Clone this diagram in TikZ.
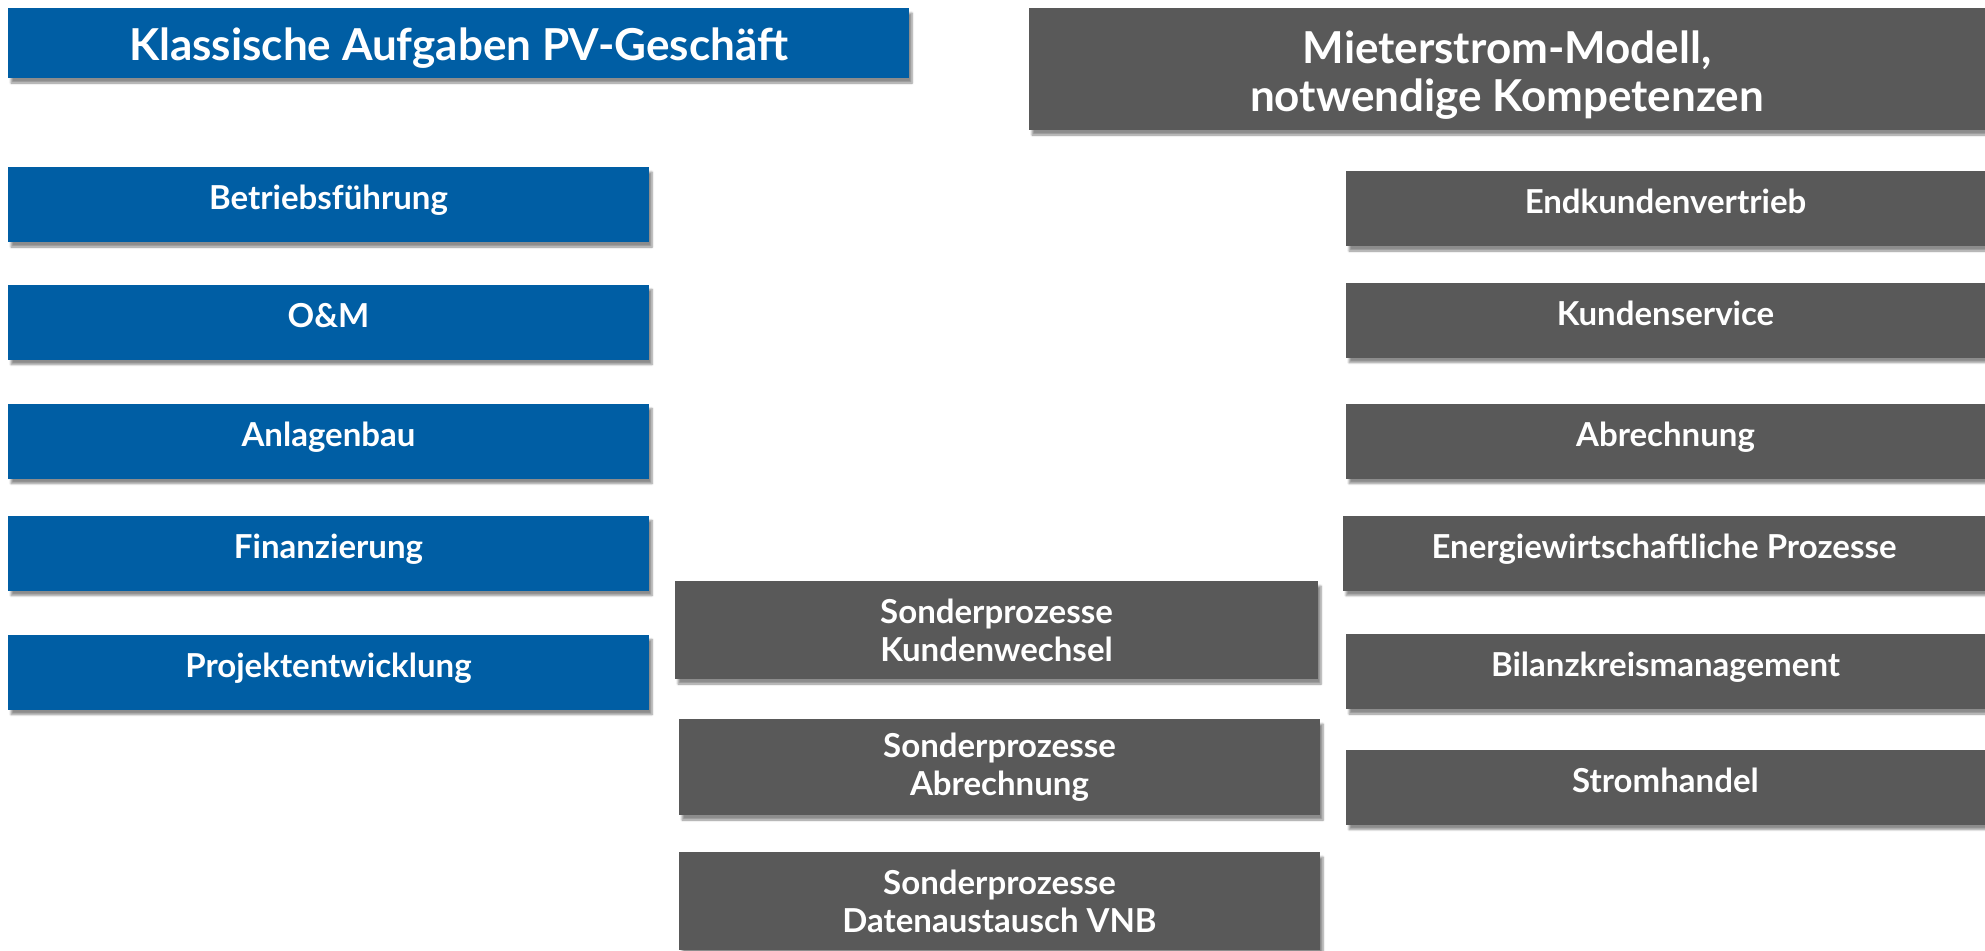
\documentclass[tikz,border=0pt]{standalone}
\usepackage{fontspec}
\setmainfont{Lato}
\usetikzlibrary{shadows.blur}
\definecolor{pvblue}{RGB}{0,94,164}
\definecolor{mgray}{RGB}{89,89,89}
\begin{document}
\begin{tikzpicture}[x=1pt,y=-1pt,
  plain/.style={text=white, align=center, inner sep=0pt},
  base/.style={plain,
    blur shadow={shadow xshift=3pt, shadow yshift=-5pt, shadow blur steps=6, shadow opacity=45}},
  oneline/.style={text height=25pt, text depth=15pt},
  bluebox/.style={base, oneline, fill=pvblue, minimum width=641pt, minimum height=75pt,
    font=\bfseries\fontsize{33}{38}\selectfont},
  graybox/.style={base, fill=mgray, minimum height=75pt,
    font=\bfseries\fontsize{33}{38}\selectfont},
  titletext/.style={plain, font=\bfseries\fontsize{44}{48}\selectfont}]
\useasboundingbox (0,0) rectangle (1985,950);
% titles
\node[base, fill=pvblue, minimum width=901pt, minimum height=70pt] (tl) at (458.5,43) {};
\node[titletext] (tlt) at (458.5,48) {Klassische Aufgaben PV-Geschäft};
\node[base, fill=mgray, minimum width=956pt, minimum height=122pt] (tr) at (1507,69) {};
\node[titletext] (trt) at (1507,75) {Mieterstrom-Modell,\\notwendige Kompetenzen};
% left column
\node[bluebox] (b1) at (328.5,204.5) {Betriebsführung};
\node[bluebox] (b2) at (328.5,322) {O\&M};
\node[bluebox] (b3) at (328.5,441) {Anlagenbau};
\node[bluebox] (b4) at (328.5,553) {Finanzierung};
\node[bluebox] (b5) at (328.5,672) {Projektentwicklung};
% middle column
\node[graybox, minimum width=643pt, minimum height=98pt] (m1) at (996.5,630) {Sonderprozesse\\Kundenwechsel};
\node[graybox, minimum width=641pt, minimum height=96pt] (m2) at (999.5,767) {Sonderprozesse\\Abrechnung};
\node[graybox, minimum width=641pt, minimum height=98pt] (m3) at (999.5,901) {Sonderprozesse\\Datenaustausch VNB};
% right column
\node[graybox, oneline, minimum width=639pt] (r1) at (1665.5,208.5) {Endkundenvertrieb};
\node[graybox, oneline, minimum width=639pt] (r2) at (1665.5,320) {Kundenservice};
\node[graybox, oneline, minimum width=639pt] (r3) at (1665.5,441) {Abrechnung};
\node[graybox, oneline, minimum width=642pt] (r4) at (1664,553) {Energiewirtschaftliche Prozesse};
\node[graybox, oneline, minimum width=639pt] (r5) at (1665.5,671.5) {Bilanzkreismanagement};
\node[graybox, oneline, minimum width=639pt] (r6) at (1665.5,787) {Stromhandel};
\end{tikzpicture}
\end{document}
